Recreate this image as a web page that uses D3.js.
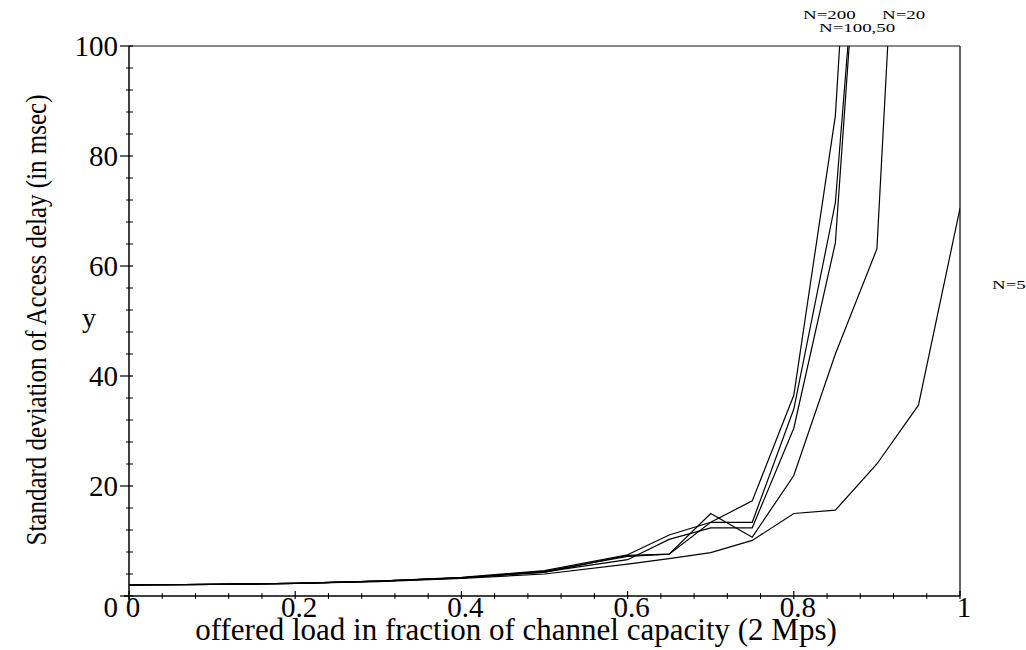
<!DOCTYPE html>
<html>
<head>
<meta charset="utf-8">
<script src="https://cdn.jsdelivr.net/npm/d3@7"></script>
<style>
  html, body { margin: 0; padding: 0; background: #fff; }
  svg { display: block; }
  text { font-family: "Liberation Serif", "DejaVu Serif", serif; fill: #000; }
</style>
</head>
<body>
<svg id="chart" width="1026" height="650"></svg>
<script>
// ---- data ----
const loads = [0, 0.1, 0.2, 0.3, 0.4, 0.5, 0.6, 0.65, 0.7, 0.75, 0.8, 0.85, 0.9, 0.95, 1.0];
const sdN5   = [2.0, 2.1, 2.3, 2.6, 3.2, 4.0, 5.8, 6.8, 7.9, 10.1, 15.0, 15.6, 24.0, 34.7, 70.5];
const sdN20  = [2.0, 2.1, 2.3, 2.7, 3.3, 4.3, 7.4, 7.6, 15.0, 10.7, 21.9, 44.0, 63.1, 205, null];
const sdN50  = [2.0, 2.1, 2.3, 2.7, 3.3, 4.4, 6.6, 10.3, 12.4, 12.4, 30.5, 64.2, 172, null, null];
const sdN100 = [2.0, 2.1, 2.3, 2.7, 3.3, 4.5, 7.2, 7.6, 13.4, 13.4, 34.0, 71.5, 166, null, null];
const sdN200 = [2.0, 2.1, 2.3, 2.7, 3.4, 4.6, 7.5, 11.1, 13.4, 17.3, 36.5, 87.3, 211, null, null];
const seriesValues = [sdN5, sdN20, sdN50, sdN100, sdN200];
const xMajorTicks = [0, 0.2, 0.4, 0.6, 0.8, 1];
const xTickLabels = ["0", "0.2", "0.4", "0.6", "0.8", "1"];
const yMajorTicks = [0, 20, 40, 60, 80, 100];
const yTickLabels = ["0", "20", "40", "60", "80", "100"];
const curveLabels = [
  {text: "N=200",    x: 803,  y: 18.5},
  {text: "N=100,50", x: 819,  y: 31.5},
  {text: "N=20",     x: 882,  y: 18.5},
  {text: "N=5",      x: 992,  y: 289}
];
const xTitle = "offered load in fraction of channel capacity (2 Mps)";
const yTitle = "Standard deviation of Access delay (in msec)";

// ---- layout ----
const svg = d3.select("#chart");
const L = 129, R = 960, T = 46, B = 596;
const x = d3.scaleLinear().domain([0, 1]).range([L, R]);
const y = d3.scaleLinear().domain([0, 100]).range([B, T]);

svg.append("defs").append("clipPath").attr("id", "plotclip")
  .append("rect").attr("x", L).attr("y", T).attr("width", R - L).attr("height", B - T);

// frame: top (grey) and right
svg.append("line").attr("x1", L).attr("x2", R).attr("y1", T).attr("y2", T)
  .attr("stroke", "#888").attr("stroke-width", 1.8);
svg.append("line").attr("x1", R).attr("x2", R).attr("y1", T).attr("y2", B)
  .attr("stroke", "#000").attr("stroke-width", 1.2);

// curves
const line = d3.line()
  .defined(d => d[1] !== null)
  .x(d => x(d[0])).y(d => y(d[1]));
const g = svg.append("g").attr("clip-path", "url(#plotclip)");
seriesValues.forEach(vals => {
  g.append("path")
    .attr("d", line(loads.map((l, i) => [l, vals[i]])))
    .attr("fill", "none").attr("stroke", "#000").attr("stroke-width", 1.2)
    .attr("stroke-linejoin", "miter");
});

// axes lines
svg.append("line").attr("x1", L - 5).attr("x2", R).attr("y1", B).attr("y2", B)
  .attr("stroke", "#000").attr("stroke-width", 1.5);
svg.append("line").attr("x1", L).attr("x2", L).attr("y1", T).attr("y2", B + 4)
  .attr("stroke", "#000").attr("stroke-width", 1.5);

// x ticks
const xMinor = d3.range(0, 1.0001, 0.04).filter(v => !xMajorTicks.some(m => Math.abs(m - v) < 1e-6));
xMinor.forEach(v => {
  svg.append("line").attr("x1", x(v)).attr("x2", x(v)).attr("y1", B - 3).attr("y2", B + 3)
    .attr("stroke", "#000").attr("stroke-width", 1);
});
xMajorTicks.forEach(v => {
  svg.append("line").attr("x1", x(v)).attr("x2", x(v)).attr("y1", B - 5).attr("y2", B + 3)
    .attr("stroke", "#000").attr("stroke-width", 1.2);
});
xMajorTicks.forEach((v, i) => {
  svg.append("text")
    .attr("x", x(v) + 4).attr("y", 617)
    .attr("text-anchor", "middle").attr("font-size", 29)
    .text(xTickLabels[i]);
});

// y ticks
const yMinor = d3.range(0, 100.001, 4).filter(v => !yMajorTicks.includes(v));
yMinor.forEach(v => {
  svg.append("line").attr("x1", L - 3).attr("x2", L + 4).attr("y1", y(v)).attr("y2", y(v))
    .attr("stroke", "#000").attr("stroke-width", 1);
});
yMajorTicks.forEach(v => {
  svg.append("line").attr("x1", L - 9).attr("x2", L + 4).attr("y1", y(v)).attr("y2", y(v))
    .attr("stroke", "#000").attr("stroke-width", 1.2);
});
yMajorTicks.forEach((v, i) => {
  const yy = v === 0 ? 617 : y(v) + 10;
  svg.append("text")
    .attr("x", 118).attr("y", yy)
    .attr("text-anchor", "end").attr("font-size", 29)
    .text(yTickLabels[i]);
});

// "y" label
svg.append("text")
  .attr("x", 89).attr("y", 327)
  .attr("text-anchor", "middle").attr("font-size", 28).text("y");

// titles
svg.append("text")
  .attr("x", 516).attr("y", 640)
  .attr("text-anchor", "middle").attr("font-size", 31).text(xTitle);
svg.append("text")
  .attr("transform", "translate(46,320) scale(1.18,1) rotate(-90)")
  .attr("text-anchor", "middle").attr("font-size", 25).text(yTitle);

// curve labels (small, wide text)
curveLabels.forEach(c => {
  svg.append("text")
    .attr("transform", `translate(${c.x},${c.y}) scale(1.4,1)`)
    .attr("font-size", 13.5).text(c.text);
});
</script>
</body>
</html>
